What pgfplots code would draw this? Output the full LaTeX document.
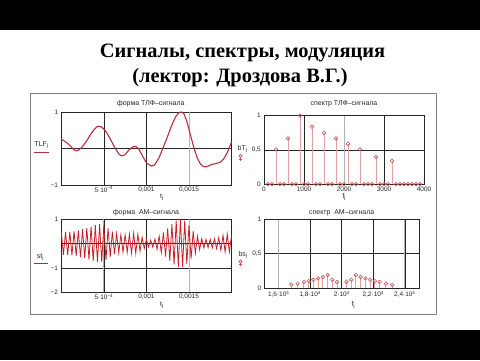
\documentclass[border=0pt]{standalone}
\usepackage{fontspec}
\setmainfont{Liberation Sans}
\newfontfamily\titlefont{Liberation Serif}
\usepackage{pgfplots}
\pgfplotsset{compat=1.18}

\definecolor{tlf}{RGB}{185,45,60}
\definecolor{am}{RGB}{200,30,40}
\definecolor{stem}{RGB}{228,160,160}
\definecolor{circ}{RGB}{200,85,85}

\pgfplotsset{mc/.style={scale only axis, anchor=south west,
  axis line style={black!85,line width=0.7bp},
  major tick length=0pt, tick style={draw=none},
  grid=major, major grid style={black!85,line width=0.6bp},
  tick label style={font=\fontsize{6.5}{7}\selectfont, text=black!85},
  xticklabel style={inner sep=1.5bp},
  yticklabel style={inner sep=1bp, xshift=-2bp},
  scaled x ticks=false, scaled y ticks=false, clip=false}}

\begin{document}
\begin{tikzpicture}[x=1bp,y=1bp]
\path (0,0) rectangle (480,360);
\fill[black] (0,330) rectangle (480,360);
\fill[black] (0,0) rectangle (480,30.5);
\draw[gray, line width=0.8bp] (30,46) rectangle (436.5,267);

\node[anchor=base, font=\titlefont\bfseries\fontsize{20.5}{24}\selectfont] at (242.5,303) {Сигналы, спектры, модуляция};
\node[anchor=base, font=\titlefont\bfseries\fontsize{20.5}{24}\selectfont] at (240,277.5) {(лектор: Дроздова В.Г.)};

% panel titles
\begin{scope}[every node/.style={font=\fontsize{7}{8}\selectfont, text=black!85}]
\node at (150.8,256) {форма ТЛФ–сигнала};
\node at (344,256) {спектр ТЛФ–сигнала};
\node at (146,147) {форма \ АМ–сигнала};
\node at (341.7,147.3) {спектр \ АМ–сигнала};
\node at (162,163) {t\textsubscript{j}};
\node at (162,55) {t\textsubscript{j}};
\node at (344.3,162.7) {f\textsubscript{j}};
\node at (353.5,55) {f\textsubscript{j}};
\node at (41.5,215) {TLF\textsubscript{j}};
\node at (40.5,103) {st\textsubscript{j}};
\node[anchor=base east] at (251,209.5) {bT\textsubscript{j}};
\node[anchor=base east] at (251,104) {bs\textsubscript{j}};
\end{scope}
\draw[tlf, line width=1bp] (34,207.3) -- (49.3,207.3);
\draw[am, line width=1bp] (34,97) -- (48,97);
\draw[circ, line width=0.6bp] (240.5,204) circle (1.6);
\draw[circ, line width=0.6bp] (240.5,202.4) -- (240.5,199.5) (238.8,200.8) -- (242.2,200.8);
\draw[circ, line width=0.6bp] (240.5,98.5) circle (1.6);
\draw[circ, line width=0.6bp] (240.5,96.9) -- (240.5,94) (238.8,95.3) -- (242.2,95.3);

% panel 1
\begin{axis}[mc, at={(61.3bp,175bp)}, width=170.2bp, height=73bp,
  xmin=0, xmax=2, ymin=-1, ymax=1,
  xtick={0.5,1,1.5}, xticklabels={{5·10\textsuperscript{−4}},{0,001},{0,0015}},
  ytick={-1,0,1}, yticklabels={{−1},{},{1}}]
\draw[gray!60, line width=0.8bp] (axis cs:1.5,-1) -- (axis cs:1.5,1);
\addplot[tlf, line width=1.1bp, smooth, tension=0.4] coordinates {
(0,0.26)(0.079,0.13)(0.157,-0.05)(0.189,-0.06)(0.236,0.02)(0.295,0.2)(0.354,0.42)(0.402,0.56)(0.433,0.61)(0.472,0.59)(0.52,0.48)(0.571,0.28)(0.63,0.02)(0.677,-0.15)(0.709,-0.2)(0.748,-0.17)(0.795,-0.04)(0.835,0.04)(0.87,0.06)(0.906,0)(0.953,-0.2)(1.004,-0.4)(1.063,-0.48)(1.102,-0.43)(1.15,-0.24)(1.201,0.05)(1.252,0.35)(1.299,0.64)(1.346,0.88)(1.386,0.98)(1.409,1)(1.441,0.95)(1.48,0.7)(1.52,0.35)(1.559,0.02)(1.598,-0.26)(1.638,-0.43)(1.677,-0.5)(1.717,-0.49)(1.764,-0.44)(1.819,-0.41)(1.87,-0.37)(1.909,-0.28)(1.949,-0.12)(1.976,0.03)(2,0.18)};
\end{axis}

% panel 2
\begin{axis}[mc, at={(264bp,175.8bp)}, width=160bp, height=68.5bp,
  xmin=0, xmax=4000, ymin=0, ymax=1,
  xtick={0,1000,2000,3000,4000}, xticklabels={0,1000,2000,3000,4000},
  xticklabel style={inner sep=3bp},
  ytick={0,0.5,1}, yticklabels={0,{0,5},1}]
\draw[gray!60, line width=0.8bp] (axis cs:2000,0) -- (axis cs:2000,1);
\addplot[ycomb, stem, line width=0.9bp, mark=o, mark size=1.8bp, mark options={draw=circ, fill=white, line width=0.6bp}] coordinates {
(100,0)(200,0)(300,0.51)(400,0)(500,0)(600,0.67)(700,0)(800,0)(900,1)(1000,0)(1100,0)(1200,0.84)(1300,0)(1400,0)(1500,0.75)(1600,0)(1700,0)(1800,0.67)(1900,0)(2000,0)(2100,0.59)(2200,0)(2300,0)(2400,0.51)(2500,0)(2600,0)(2700,0)(2800,0.4)(2900,0)(3000,0)(3100,0)(3200,0.34)(3300,0)(3400,0)(3500,0)(3600,0)(3700,0)(3800,0)(3900,0)};
\end{axis}

% panel 3
\begin{axis}[mc, at={(61.3bp,67.7bp)}, width=170.2bp, height=73.3bp,
  xmin=0, xmax=2, ymin=-2, ymax=1,
  xtick={0.5,1,1.5}, xticklabels={{5·10\textsuperscript{−4}},{0,001},{0,0015}},
  ytick={-2,-1,0,1}, yticklabels={{−2},{−1},{},{1}}]
\draw[gray!60, line width=0.8bp] (axis cs:0.5,-2) -- (axis cs:0.5,1);
\draw[gray!60, line width=0.8bp] (axis cs:1.5,-2) -- (axis cs:1.5,1);
\addplot[am, line width=0.8bp] coordinates {
(0,0.47)(0.025,-0.47)(0.05,0.475)(0.075,-0.48)(0.1,0.48)(0.125,-0.49)(0.15,0.5)(0.175,-0.51)(0.2,0.53)(0.225,-0.555)(0.25,0.58)(0.275,-0.605)(0.3,0.63)(0.325,-0.66)(0.35,0.69)(0.375,-0.72)(0.4,0.75)(0.425,-0.77)(0.45,0.79)(0.475,-0.765)(0.5,0.74)(0.525,-0.68)(0.55,0.62)(0.575,-0.55)(0.6,0.48)(0.625,-0.44)(0.65,0.4)(0.675,-0.38)(0.7,0.36)(0.725,-0.355)(0.75,0.35)(0.775,-0.365)(0.8,0.38)(0.825,-0.4)(0.85,0.42)(0.875,-0.4)(0.9,0.38)(0.925,-0.315)(0.95,0.25)(0.975,-0.205)(1,0.16)(1.025,-0.145)(1.05,0.13)(1.075,-0.155)(1.1,0.18)(1.125,-0.24)(1.15,0.3)(1.175,-0.375)(1.2,0.45)(1.225,-0.535)(1.25,0.62)(1.275,-0.71)(1.3,0.8)(1.325,-0.865)(1.35,0.93)(1.375,-0.965)(1.4,1)(1.425,-0.965)(1.45,0.93)(1.475,-0.84)(1.5,0.75)(1.525,-0.625)(1.55,0.5)(1.575,-0.4)(1.6,0.3)(1.625,-0.25)(1.65,0.2)(1.675,-0.185)(1.7,0.17)(1.725,-0.17)(1.75,0.17)(1.775,-0.18)(1.8,0.19)(1.825,-0.21)(1.85,0.23)(1.875,-0.28)(1.9,0.33)(1.925,-0.355)(1.95,0.38)(1.975,-0.35)(2,0.32)};
\end{axis}

% panel 4
\begin{axis}[mc, at={(264.5bp,72bp)}, width=154.5bp, height=68.5bp,
  xmin=15100, xmax=24900, ymin=0, ymax=1,
  xtick={16000,18000,20000,22000,24000},
  xticklabels={{1,6·10\textsuperscript{4}},{1,8·10\textsuperscript{4}},{2·10\textsuperscript{4}},{2,2·10\textsuperscript{4}},{2,4·10\textsuperscript{4}}},
  xticklabel style={inner sep=3bp},
  ytick={0,0.5,1}, yticklabels={0,{0,5},1}]
\draw[gray!60, line width=0.8bp] (axis cs:16000,0) -- (axis cs:16000,1);
\draw[gray!60, line width=0.8bp] (axis cs:24000,0) -- (axis cs:24000,1);
\addplot[ycomb, stem, line width=0.9bp, mark=o, mark size=1.8bp, mark options={draw=circ, fill=white, line width=0.6bp}] coordinates {
(16800,0.05)(17200,0.064)(17600,0.089)(17900,0.10)(18200,0.12)(18500,0.14)(18800,0.16)(19100,0.19)(19400,0.12)(19700,0.085)(20300,0.09)(20600,0.12)(20900,0.19)(21200,0.16)(21500,0.14)(21800,0.12)(22100,0.10)(22400,0.09)(22800,0.064)(23200,0.047)};
\end{axis}
\end{tikzpicture}
\end{document}
